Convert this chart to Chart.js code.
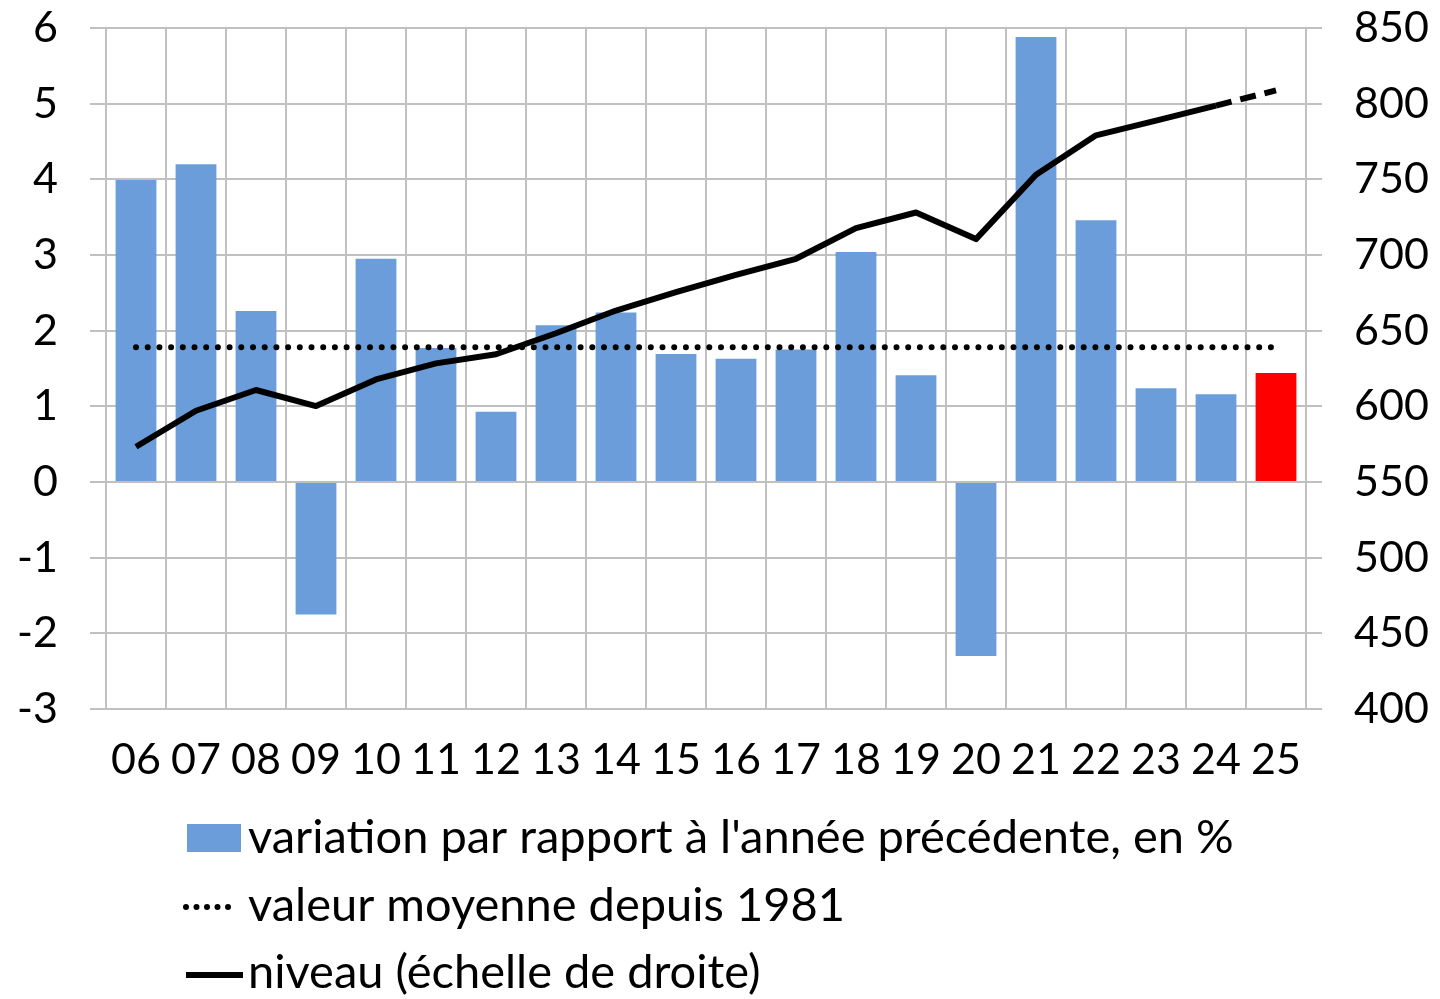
<!DOCTYPE html>
<html lang="fr">
<head>
<meta charset="UTF-8">
<title>Variation et niveau</title>
<script src="https://cdn.jsdelivr.net/npm/chart.js@4.4.1/dist/chart.umd.min.js"></script>
<style>
  html, body { margin: 0; padding: 0; background: #fff; }
  #wrap { width: 1440px; height: 999px; }
</style>
</head>
<body>
<div id="wrap"><canvas id="graph" width="1440" height="999"></canvas></div>
<script>
// données
const annees = ['06','07','08','09','10','11','12','13','14','15','16','17','18','19','20','21','22','23','24','25'];
const variation = [3.99, 4.20, 2.26, -1.75, 2.95, 1.77, 0.93, 2.07, 2.24, 1.69, 1.63, 1.75, 3.04, 1.41, -2.30, 5.88, 3.46, 1.24, 1.16, 1.44];
const niveau = [573.3, 597.1, 610.8, 600.2, 617.8, 628.4, 634.4, 648.3, 663.3, 675.5, 686.9, 697.5, 717.8, 728.1, 710.5, 753.0, 779.1, 788.8, 798.7, 808.8];
const moyenne = [1.78, 1.78, 1.78, 1.78, 1.78, 1.78, 1.78, 1.78, 1.78, 1.78, 1.78, 1.78, 1.78, 1.78, 1.78, 1.78, 1.78, 1.78, 1.78, 1.78];
const ticksGauche = [-3, -2, -1, 0, 1, 2, 3, 4, 5, 6];
const ticksDroite = [400, 450, 500, 550, 600, 650, 700, 750, 800, 850];

const libelles = [
    'variation par rapport à l\'année précédente, en %',
    'valeur moyenne depuis 1981',
    'niveau (échelle de droite)'
];

const BLEU = '#6A9DDA';
const ROUGE = '#FF0000';
const GRILLE = '#C0C0C0';
const POLICE = 'Lato, "Open Sans", sans-serif';

Chart.defaults.font.family = POLICE;
Chart.defaults.color = '#000';

// couleur par barre : la dernière (prévision) en rouge
const couleurs = annees.map((a, i) => i === annees.length - 1 ? ROUGE : BLEU);

// pas de marge automatique au-dessus des axes verticaux
const sansMarge = s => { s.paddingTop = 0; s.paddingBottom = 0; };

// légende dessinée à la main, une entrée par ligne
const legendePlugin = {
    id: 'legendeVerticale',
    afterDraw(chart) {
        const ctx = chart.ctx;
        ctx.save();
        ctx.font = '47px ' + POLICE;
        ctx.textBaseline = 'middle';
        ctx.textAlign = 'left';
        const xTexte = 248;
        const lignes = [838, 906, 973];

        // carré bleu
        ctx.fillStyle = BLEU;
        ctx.fillRect(187, 824, 54, 28);

        // pointillés
        ctx.strokeStyle = '#000';
        ctx.lineWidth = 6;
        ctx.lineCap = 'round';
        ctx.setLineDash([0, 10.5]);
        ctx.beginPath();
        ctx.moveTo(186, 907);
        ctx.lineTo(238, 907);
        ctx.stroke();

        // trait plein
        ctx.setLineDash([]);
        ctx.lineWidth = 6;
        ctx.lineCap = 'butt';
        ctx.beginPath();
        ctx.moveTo(186, 975);
        ctx.lineTo(243, 975);
        ctx.stroke();

        ctx.fillStyle = '#000';
        libelles.forEach((t, i) => ctx.fillText(t, xTexte, lignes[i]));
        ctx.restore();
    }
};

const config = {
    type: 'bar',
    data: {
        labels: annees,
        datasets: [
            {
                type: 'line',
                label: libelles[2],
                data: niveau,
                yAxisID: 'y1',
                borderColor: '#000',
                borderWidth: 6,
                pointRadius: 0,
                tension: 0,
                borderJoinStyle: 'round',
                segment: {
                    borderDash: c => c.p0DataIndex === annees.length - 2 ? [16, 9] : undefined
                },
                order: 0
            },
            {
                type: 'line',
                label: libelles[1],
                data: moyenne,
                yAxisID: 'y',
                borderColor: '#000',
                borderWidth: 6,
                borderDash: [0, 11.7],
                borderCapStyle: 'round',
                pointRadius: 0,
                order: 1
            },
            {
                label: libelles[0],
                data: variation,
                yAxisID: 'y',
                backgroundColor: couleurs,
                barPercentage: 0.68,
                categoryPercentage: 1,
                order: 2
            }
        ]
    },
    options: {
        responsive: false,
        animation: false,
        layout: { padding: { top: 28, right: 0, left: 0, bottom: 0 } },
        plugins: {
            legend: { display: false },
            tooltip: { enabled: false }
        },
        scales: {
            x: {
                offset: true,
                grid: {
                    color: GRILLE,
                    lineWidth: 2,
                    offset: true,
                    drawTicks: false
                },
                border: { color: GRILLE, width: 2 },
                ticks: { font: { size: 43 }, padding: 25, maxRotation: 0, autoSkip: false },
                afterFit: s => { s.height = 290; }
            },
            y: {
                position: 'left',
                min: -3,
                max: 6,
                afterBuildTicks: s => { s.ticks = ticksGauche.map(v => ({ value: v })); },
                grid: { color: GRILLE, lineWidth: 2, tickLength: 16 },
                border: { color: GRILLE, width: 2 },
                ticks: { font: { size: 43 }, padding: 32 },
                afterFit: s => { s.width = 106; sansMarge(s); }
            },
            y1: {
                position: 'right',
                min: 400,
                max: 850,
                afterBuildTicks: s => { s.ticks = ticksDroite.map(v => ({ value: v })); },
                grid: { color: GRILLE, lineWidth: 2, tickLength: 16, drawOnChartArea: false },
                border: { color: GRILLE, width: 2 },
                ticks: { font: { size: 43 }, padding: 32 },
                afterFit: s => { s.width = 134; sansMarge(s); }
            }
        }
    },
    plugins: [legendePlugin]
};

new Chart(document.getElementById('graph'), config);
</script>
</body>
</html>
